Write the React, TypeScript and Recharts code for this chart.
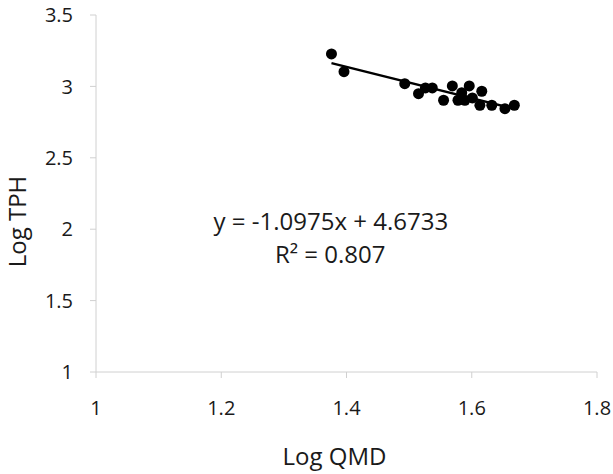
import { ScatterChart, Scatter, XAxis, YAxis, ReferenceDot } from 'recharts';

// Log QMD (x) and Log TPH (y) per plot
const logQmd = [
  1.376, 1.396, 1.493, 1.515, 1.526, 1.537, 1.555, 1.569, 1.578,
  1.584, 1.589, 1.596, 1.601, 1.616, 1.613, 1.632, 1.653, 1.668,
];
const logTph = [
  3.227, 3.103, 3.019, 2.949, 2.989, 2.989, 2.903, 3.003, 2.903,
  2.956, 2.903, 3.003, 2.919, 2.966, 2.868, 2.868, 2.844, 2.868,
];

const xTicks = [1, 1.2, 1.4, 1.6, 1.8];
const yTicks = [1, 1.5, 2, 2.5, 3, 3.5];

const slope = -1.0975;
const intercept = 4.6733;
const r2 = 0.807;

const points = logQmd.map((x, i) => ({ x, y: logTph[i] }));
const xMin = Math.min(...logQmd);
const xMax = Math.max(...logQmd);
const trend = [xMin, xMax].map((x) => ({ x, y: slope * x + intercept }));

const font = '"Open Sans", sans-serif';
const axisColor = '#d0d0d0';
const textColor = '#1a1a1a';

export default function App() {
  return (
    <div style={{ position: 'absolute', left: 0, top: 0 }}>
      <ScatterChart
        width={613}
        height={474}
        margin={{ top: 15, right: 16, left: 0, bottom: 0 }}
        style={{ fontFamily: font }}
      >
        <XAxis
          type="number"
          dataKey="x"
          domain={[1, 1.8]}
          ticks={xTicks}
          height={102}
          stroke={axisColor}
          tickSize={6}
          tickMargin={23}
          tick={{ fill: textColor, fontSize: 20, fontFamily: font }}
          label={({ viewBox }: any) => (
            <text
              x={viewBox.x + viewBox.width / 2 - 12}
              y={465}
              textAnchor="middle"
              fill={textColor}
              fontSize={24}
              fontFamily={font}
            >
              Log QMD
            </text>
          )}
        />
        <YAxis
          type="number"
          dataKey="y"
          domain={[1, 3.5]}
          ticks={yTicks}
          width={96}
          stroke={axisColor}
          tickSize={6}
          tickMargin={17}
          tick={{ fill: textColor, fontSize: 20, fontFamily: font }}
          label={({ viewBox }: any) => {
            const cx = 16;
            const cy = viewBox.y + viewBox.height / 2 + 28;
            return (
              <text
                x={cx}
                y={cy}
                transform={`rotate(-90, ${cx}, ${cy})`}
                textAnchor="middle"
                dominantBaseline="central"
                fill={textColor}
                fontSize={24}
                fontFamily={font}
              >
                Log TPH
              </text>
            );
          }}
        />
        <Scatter
          data={trend}
          line={{ stroke: '#000', strokeWidth: 2.5 }}
          shape={() => <g />}
          isAnimationActive={false}
        />
        <Scatter data={points} fill="#000" isAnimationActive={false} shape={(p: any) => (
          <circle cx={p.cx} cy={p.cy} r={5.5} fill="#000" />
        )} />
        <ReferenceDot
          x={1.375}
          y={1.994}
          r={0}
          fill="none"
          stroke="none"
          label={({ viewBox }: any) => (
            <text x={viewBox.x} y={viewBox.y} textAnchor="middle" fill={textColor} fontSize={24} fontFamily={font}>
              {`y = ${slope}x + ${intercept}`}
            </text>
          )}
        />
        <ReferenceDot
          x={1.374}
          y={1.761}
          r={0}
          fill="none"
          stroke="none"
          label={({ viewBox }: any) => (
            <text x={viewBox.x} y={viewBox.y} textAnchor="middle" fill={textColor} fontSize={24} fontFamily={font}>
              {`R² = ${r2}`}
            </text>
          )}
        />
      </ScatterChart>
    </div>
  );
}
